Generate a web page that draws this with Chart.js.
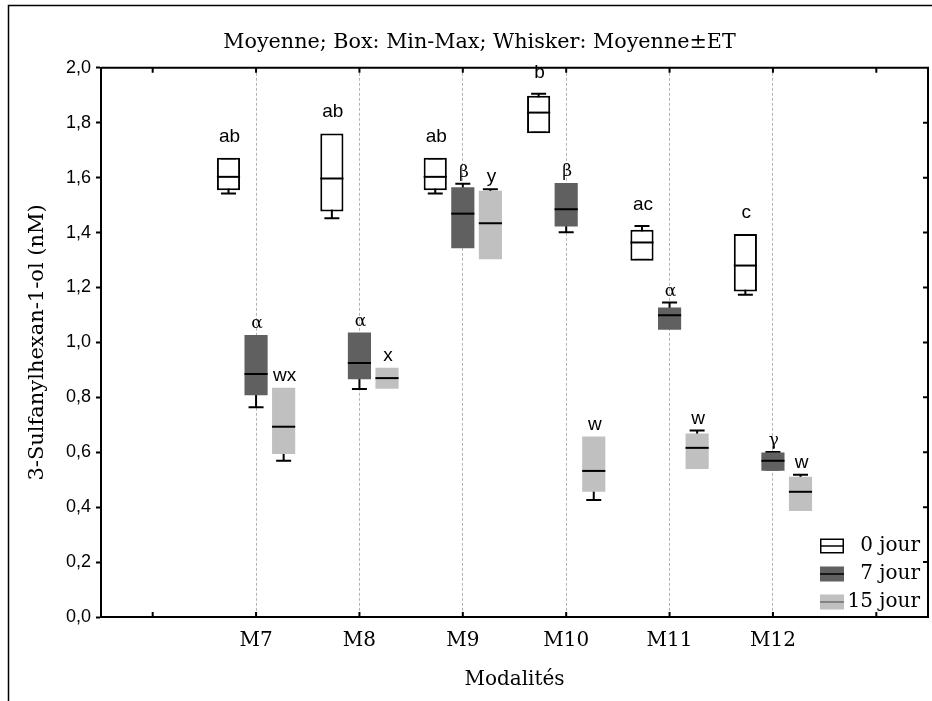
<!DOCTYPE html>
<html lang="fr">
<head>
<meta charset="UTF-8" />
<title>3-Sulfanylhexan-1-ol par modalité</title>
<script src="https://cdn.jsdelivr.net/npm/chart.js"></script>
<style>
  html, body { margin: 0; padding: 0; background: #fff; }
  .wrap { width: 932px; height: 701px; }
</style>
</head>
<body>
<div class="wrap"><canvas id="chart" width="932" height="701"></canvas></div>
<script>
// Modalités on the x axis (empty slots at both ends, as on the original axis)
const modalites = ["M7", "M8", "M9", "M10", "M11", "M12"];
const series = ["0 jour", "7 jour", "15 jour"];

// 0 jour : box = min..max, line = mean, whisker = mean ± SD
const min0 = [1.554, 1.477, 1.554, 1.762, 1.297, 1.185];
const max0 = [1.673, 1.761, 1.673, 1.898, 1.410, 1.395];
const mean0 = [1.603, 1.597, 1.603, 1.837, 1.364, 1.280];
const sd0 = [0.061, 0.145, 0.061, 0.069, 0.060, 0.106];
const letters0 = ["ab", "ab", "ab", "b", "ac", "c"];

// 7 jour
const min7 = [0.808, 0.866, 1.343, 1.422, 1.046, 0.533];
const max7 = [1.027, 1.036, 1.565, 1.581, 1.127, 0.599];
const mean7 = [0.885, 0.925, 1.469, 1.485, 1.099, 0.569];
const sd7 = [0.121, 0.095, 0.109, 0.084, 0.046, 0.032];
const letters7 = ["α", "α", "β", "β", "α", "γ"];

// 15 jour
const min15 = [0.594, 0.831, 1.303, 0.456, 0.539, 0.386];
const max15 = [0.835, 0.908, 1.552, 0.657, 0.668, 0.511];
const mean15 = [0.693, 0.870, 1.434, 0.532, 0.616, 0.456];
const sd15 = [0.124, 0.030, 0.124, 0.106, 0.063, 0.062];
const letters15 = ["wx", "x", "y", "w", "w", "w"];

const yTicks = [0, 0.2, 0.4, 0.6, 0.8, 1.0, 1.2, 1.4, 1.6, 1.8, 2.0];

const labels = ["", ...modalites, ""];
const pad = (arr) => [null, ...arr, null];
const boxes = (mins, maxs) => pad(mins.map((m, i) => [m, maxs[i]]));

const serif = "DejaVu Serif";
const sans = "Liberation Sans";

// whiskers under the boxes, mean lines + letters + frame + legend on top
const boxPlugin = {
  id: "boxWhisker",
  beforeDraw(chart) {
    const ctx = chart.ctx;
    ctx.save();
    ctx.strokeStyle = "#000";
    ctx.lineWidth = 1.5;
    ctx.beginPath();
    ctx.moveTo(8.5, chart.height);
    ctx.lineTo(8.5, 5.5);
    ctx.lineTo(chart.width, 5.5);
    ctx.stroke();
    ctx.restore();
  },
  beforeDatasetsDraw(chart) {
    const ctx = chart.ctx;
    const y = chart.scales.y;
    ctx.save();
    ctx.strokeStyle = "#000";
    ctx.lineWidth = 2;
    chart.data.datasets.forEach((ds, i) => {
      const meta = chart.getDatasetMeta(i);
      ds.mean.forEach((m, j) => {
        if (m == null) return;
        const bar = meta.data[j];
        const lo = y.getPixelForValue(m - ds.sd[j]);
        const hi = y.getPixelForValue(m + ds.sd[j]);
        ctx.beginPath();
        ctx.moveTo(bar.x, lo);
        ctx.lineTo(bar.x, hi);
        ctx.moveTo(bar.x - 7.5, lo);
        ctx.lineTo(bar.x + 7.5, lo);
        ctx.moveTo(bar.x - 7.5, hi);
        ctx.lineTo(bar.x + 7.5, hi);
        ctx.stroke();
      });
    });
    ctx.restore();
  },
  afterDatasetsDraw(chart) {
    const ctx = chart.ctx;
    const y = chart.scales.y;
    const x = chart.scales.x;
    const area = chart.chartArea;
    const gaps = [16, 7, 7];
    ctx.save();

    chart.data.datasets.forEach((ds, i) => {
      const meta = chart.getDatasetMeta(i);
      ds.mean.forEach((m, j) => {
        if (m == null) return;
        const bar = meta.data[j];
        const py = y.getPixelForValue(m);
        ctx.strokeStyle = "#000";
        ctx.lineWidth = 2;
        ctx.beginPath();
        ctx.moveTo(bar.x - bar.width / 2, py);
        ctx.lineTo(bar.x + bar.width / 2, py);
        ctx.stroke();

        const top = Math.max(ds.data[j][1], m + ds.sd[j]);
        const txt = ds.letters[j];
        const greek = /[α-ω]/.test(txt);
        ctx.fillStyle = "#000";
        ctx.textAlign = "center";
        ctx.textBaseline = "alphabetic";
        ctx.font = greek ? "17px '" + serif + "'" : "19px '" + sans + "'";
        ctx.fillText(txt, bar.x + 1, y.getPixelForValue(top) - gaps[i]);
      });
    });

    // top / right frame with inward ticks, inward ticks on the bottom axis
    ctx.strokeStyle = "#000";
    ctx.lineWidth = 2;
    ctx.beginPath();
    ctx.moveTo(area.left, area.top);
    ctx.lineTo(area.right, area.top);
    ctx.lineTo(area.right, area.bottom);
    x.ticks.forEach((t, k) => {
      const px = x.getPixelForTick(k);
      ctx.moveTo(px, area.top);
      ctx.lineTo(px, area.top + 5);
      ctx.moveTo(px, area.bottom);
      ctx.lineTo(px, area.bottom - 5);
    });
    yTicks.forEach((v) => {
      const py = y.getPixelForValue(v);
      ctx.moveTo(area.right, py);
      ctx.lineTo(area.right - 5, py);
    });
    ctx.stroke();

    // legend, bottom right inside the plot
    const rowCenters = [area.bottom - 71, area.bottom - 43, area.bottom - 15];
    const symX = area.right - 108;
    chart.data.datasets.forEach((ds, i) => {
      const cy = rowCenters[i];
      ctx.fillStyle = ds.backgroundColor;
      ctx.fillRect(symX, cy - 7.5, 24, 15);
      if (ds.borderWidth) {
        ctx.strokeStyle = ds.borderColor;
        ctx.lineWidth = 1.5;
        ctx.strokeRect(symX + 0.75, cy - 6.75, 22.5, 13.5);
      }
      ctx.strokeStyle = ds.legendLine;
      ctx.lineWidth = 1.5;
      ctx.beginPath();
      ctx.moveTo(symX, cy);
      ctx.lineTo(symX + 24, cy);
      ctx.stroke();
      ctx.fillStyle = "#000";
      ctx.font = "20px '" + serif + "'";
      ctx.textAlign = "right";
      ctx.textBaseline = "middle";
      ctx.fillText(ds.label, area.right - 8, cy);
    });
    ctx.restore();
  }
};

new Chart(document.getElementById("chart"), {
  type: "bar",
  data: {
    labels: labels,
    datasets: [
      {
        label: series[0],
        data: boxes(min0, max0),
        mean: pad(mean0),
        sd: pad(sd0),
        letters: pad(letters0),
        backgroundColor: "#ffffff",
        borderColor: "#000000",
        borderWidth: 2,
        borderSkipped: false,
        legendLine: "#000000"
      },
      {
        label: series[1],
        data: boxes(min7, max7),
        mean: pad(mean7),
        sd: pad(sd7),
        letters: pad(letters7),
        backgroundColor: "#606060",
        borderWidth: 0,
        legendLine: "#000000"
      },
      {
        label: series[2],
        data: boxes(min15, max15),
        mean: pad(mean15),
        sd: pad(sd15),
        letters: pad(letters15),
        backgroundColor: "#c0c0c0",
        borderWidth: 0,
        legendLine: "#707070"
      }
    ]
  },
  options: {
    responsive: false,
    animation: false,
    events: [],
    layout: { padding: { left: 31, right: 4, top: 0, bottom: 4 } },
    datasets: { bar: { categoryPercentage: 0.8, barPercentage: 0.84 } },
    plugins: {
      legend: { display: false },
      tooltip: { enabled: false },
      title: {
        display: true,
        text: "Moyenne; Box: Min-Max; Whisker: Moyenne±ET",
        color: "#000",
        font: { family: serif, size: 20.7, weight: "normal" },
        padding: { top: 30, bottom: 13 }
      }
    },
    scales: {
      x: {
        offset: true,
        grid: {
          offset: false,
          drawTicks: false,
          lineWidth: 1,
          color: (c) => (labels[c.index] ? "#b4b4b4" : "rgba(0,0,0,0)")
        },
        border: { color: "#000", width: 2, dash: [3, 2] },
        ticks: {
          color: "#000",
          font: { family: serif, size: 20 },
          padding: 12,
          maxRotation: 0,
          autoSkip: false
        },
        title: {
          display: true,
          text: "Modalités",
          color: "#000",
          font: { family: serif, size: 20 },
          padding: { top: 3, bottom: 5 }
        }
      },
      y: {
        min: 0,
        max: 2,
        afterBuildTicks: (s) => { s.ticks = yTicks.map((v) => ({ value: v })); },
        afterFit: (s) => { s.width = 70; },
        ticks: {
          color: "#000",
          font: { family: sans, size: 18 },
          padding: 5,
          callback: (v) => v.toFixed(1).replace(".", ",")
        },
        grid: {
          drawOnChartArea: false,
          drawTicks: true,
          tickLength: 5,
          tickColor: "#000",
          tickWidth: 2
        },
        border: { color: "#000", width: 2 },
        title: {
          display: true,
          text: "3-Sulfanylhexan-1-ol (nM)",
          color: "#000",
          font: { family: serif, size: 21 },
          padding: { top: -6, bottom: 4 }
        }
      }
    }
  },
  plugins: [boxPlugin]
});
</script>
</body>
</html>
